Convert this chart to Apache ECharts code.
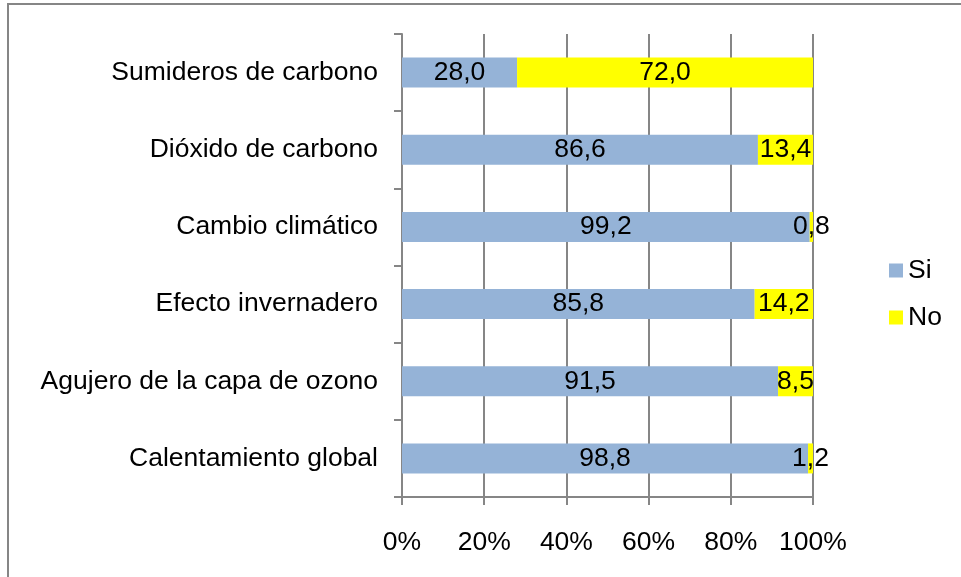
<!DOCTYPE html>
<html><head><meta charset="utf-8">
<script src="https://cdn.jsdelivr.net/npm/echarts@6/dist/echarts.min.js"></script>
<style>html,body{margin:0;padding:0;background:#fff}#c{width:961px;height:577px}</style>
</head><body><div id="c"></div>
<script>
const categories = ['Calentamiento global','Agujero de la capa de ozono','Efecto invernadero','Cambio climático','Dióxido de carbono','Sumideros de carbono'];
const siValues = [98.8, 91.5, 85.8, 99.2, 86.6, 28.0];
const noValues = [1.2, 8.5, 14.2, 0.8, 13.4, 72.0];
const xTicks = [0, 20, 40, 60, 80, 100];

const font = '"Liberation Sans", Arial, sans-serif';
const gray = '#868686';
const fs = 26.5;
const fmt = p => p.value.toFixed(1).replace('.', ',');
const chart = echarts.init(document.getElementById('c'));
chart.setOption({
  animation: false,
  textStyle: { fontFamily: font },
  graphic: [{ type: 'rect', shape: { x: 8, y: 4, width: 1000, height: 620 }, style: { fill: 'none', stroke: gray, lineWidth: 2 }, silent: true }],
  grid: { left: 402, right: 148, top: 34, bottom: 80 },
  legend: {
    orient: 'vertical', left: 889, top: 257, padding: 0, itemWidth: 14, itemHeight: 14, itemGap: 20,
    icon: 'rect', textStyle: { fontSize: fs, color: '#000', fontFamily: font, lineHeight: 26 },
    data: ['Si', 'No']
  },
  xAxis: {
    type: 'value', min: xTicks[0], max: xTicks[xTicks.length - 1], interval: 20,
    axisLine: { show: true, lineStyle: { color: gray, width: 2 } },
    axisTick: { show: true, length: 8, lineStyle: { color: gray, width: 2 } },
    splitLine: { show: true, lineStyle: { color: gray, width: 2 } },
    axisLabel: { formatter: '{value}%', fontSize: fs, color: '#000', margin: 32, fontFamily: font }
  },
  yAxis: {
    type: 'category', data: categories,
    axisLine: { show: true, lineStyle: { color: gray, width: 2 } },
    axisTick: { show: true, length: 8, lineStyle: { color: gray, width: 2 } },
    axisLabel: { fontSize: fs, color: '#000', margin: 24, fontFamily: font }
  },
  series: [
    { name: 'Si', type: 'bar', stack: 't', data: siValues, barWidth: 30, itemStyle: { color: '#95B3D7' },
      label: { show: true, position: 'inside', formatter: fmt, fontSize: fs, color: '#000', fontFamily: font } },
    { name: 'No', type: 'bar', stack: 't', data: noValues, barWidth: 30, itemStyle: { color: '#FFFF00' },
      label: { show: true, position: 'inside', formatter: fmt, fontSize: fs, color: '#000', fontFamily: font } }
  ]
});
</script></body></html>
